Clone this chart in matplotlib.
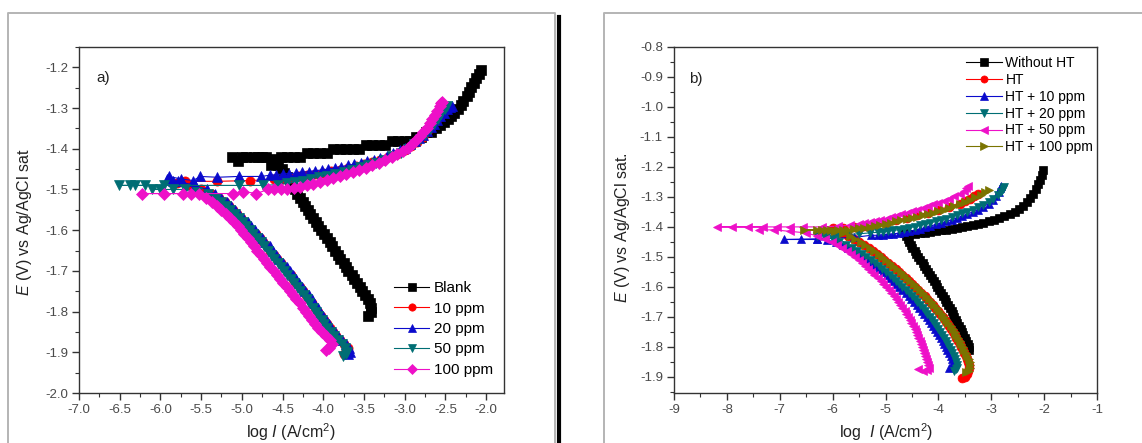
import matplotlib
matplotlib.use("Agg")
import matplotlib.pyplot as plt
from matplotlib.lines import Line2D
from matplotlib.ticker import MultipleLocator, FormatStrFormatter

plt.rcParams['font.family'] = ['Liberation Sans', 'DejaVu Sans']
plt.rcParams['mathtext.fontset'] = 'custom'
plt.rcParams['mathtext.rm'] = 'Liberation Sans'
plt.rcParams['mathtext.it'] = 'Liberation Sans:italic'
plt.rcParams['axes.unicode_minus'] = False

# ---------------- Panel a): inhibitor concentration ----------------
# each series: (log i, E) pairs in sweep order (cathodic -> anodic)
blank_a = [
    (-3.45, -1.81), (-3.41, -1.80), (-3.41, -1.79), (-3.43, -1.78), (-3.45, -1.77), (-3.49, -1.76),
    (-3.52, -1.75), (-3.55, -1.74), (-3.58, -1.73), (-3.62, -1.72), (-3.65, -1.71), (-3.69, -1.70),
    (-3.72, -1.69), (-3.75, -1.68), (-3.79, -1.67), (-3.82, -1.66), (-3.85, -1.65), (-3.89, -1.64),
    (-3.92, -1.63), (-3.96, -1.62), (-3.99, -1.61), (-4.03, -1.60), (-4.06, -1.59), (-4.09, -1.58),
    (-4.13, -1.57), (-4.16, -1.56), (-4.19, -1.55), (-4.22, -1.54), (-4.25, -1.53), (-4.29, -1.52),
    (-4.32, -1.51), (-4.35, -1.50), (-4.38, -1.49), (-4.41, -1.48), (-4.44, -1.47), (-4.48, -1.46),
    (-4.51, -1.45), (-4.55, -1.44), (-4.60, -1.43), (-4.64, -1.44), (-4.70, -1.42), (-4.80, -1.42),
    (-4.95, -1.42), (-5.05, -1.43), (-5.12, -1.42), (-5.00, -1.42), (-4.85, -1.42), (-4.75, -1.42),
    (-4.62, -1.425), (-4.52, -1.42), (-4.44, -1.42), (-4.36, -1.42), (-4.28, -1.42), (-4.20, -1.41),
    (-4.12, -1.41), (-4.04, -1.41), (-3.96, -1.41), (-3.88, -1.40), (-3.80, -1.40), (-3.72, -1.40),
    (-3.64, -1.40), (-3.56, -1.40), (-3.48, -1.39), (-3.40, -1.39), (-3.32, -1.39), (-3.24, -1.39),
    (-3.16, -1.38), (-3.08, -1.38), (-3.00, -1.38), (-2.93, -1.38), (-2.86, -1.37), (-2.80, -1.37),
    (-2.74, -1.36), (-2.68, -1.36), (-2.62, -1.35), (-2.57, -1.342), (-2.52, -1.335), (-2.47, -1.328),
    (-2.43, -1.320), (-2.39, -1.311), (-2.35, -1.302), (-2.31, -1.292), (-2.28, -1.282), (-2.24, -1.271),
    (-2.21, -1.260), (-2.18, -1.249), (-2.15, -1.238), (-2.12, -1.227), (-2.09, -1.216), (-2.06, -1.207),
]

ppm10_a = [
    (-3.74, -1.905), (-3.69, -1.90), (-3.70, -1.89), (-3.74, -1.88), (-3.79, -1.87), (-3.84, -1.86),
    (-3.88, -1.85), (-3.92, -1.84), (-3.96, -1.83), (-3.99, -1.82), (-4.03, -1.81), (-4.06, -1.80),
    (-4.10, -1.79), (-4.14, -1.78), (-4.17, -1.77), (-4.21, -1.76), (-4.25, -1.75), (-4.29, -1.74),
    (-4.33, -1.73), (-4.37, -1.72), (-4.40, -1.71), (-4.44, -1.70), (-4.48, -1.69), (-4.52, -1.68),
    (-4.57, -1.67), (-4.61, -1.66), (-4.65, -1.65), (-4.69, -1.64), (-4.74, -1.63), (-4.78, -1.62),
    (-4.83, -1.61), (-4.87, -1.60), (-4.92, -1.59), (-4.96, -1.58), (-5.01, -1.57), (-5.06, -1.56),
    (-5.11, -1.55), (-5.16, -1.54), (-5.21, -1.53), (-5.28, -1.52), (-5.37, -1.51), (-5.50, -1.50),
    (-5.65, -1.49), (-5.80, -1.485), (-5.70, -1.48), (-5.30, -1.48), (-4.90, -1.478), (-4.60, -1.475),
    (-4.50, -1.474), (-4.40, -1.471), (-4.30, -1.468), (-4.20, -1.465), (-4.10, -1.462), (-4.00, -1.459),
    (-3.90, -1.455), (-3.80, -1.451), (-3.70, -1.447), (-3.60, -1.443), (-3.50, -1.438), (-3.40, -1.433),
    (-3.30, -1.427), (-3.20, -1.421), (-3.10, -1.413), (-3.00, -1.404), (-2.92, -1.394), (-2.85, -1.383),
    (-2.78, -1.371), (-2.72, -1.358), (-2.66, -1.345), (-2.61, -1.332), (-2.56, -1.319), (-2.52, -1.307),
    (-2.48, -1.298),
]

ppm20_a = [
    (-3.70, -1.905), (-3.67, -1.90), (-3.68, -1.89), (-3.72, -1.88), (-3.77, -1.87), (-3.82, -1.86),
    (-3.86, -1.85), (-3.90, -1.84), (-3.93, -1.83), (-3.97, -1.82), (-4.00, -1.81), (-4.04, -1.80),
    (-4.07, -1.79), (-4.11, -1.78), (-4.14, -1.77), (-4.18, -1.76), (-4.22, -1.75), (-4.26, -1.74),
    (-4.30, -1.73), (-4.34, -1.72), (-4.37, -1.71), (-4.41, -1.70), (-4.45, -1.69), (-4.49, -1.68),
    (-4.54, -1.67), (-4.58, -1.66), (-4.62, -1.65), (-4.66, -1.64), (-4.71, -1.63), (-4.75, -1.62),
    (-4.80, -1.61), (-4.84, -1.60), (-4.89, -1.59), (-4.93, -1.58), (-4.98, -1.57), (-5.03, -1.56),
    (-5.08, -1.55), (-5.13, -1.54), (-5.18, -1.53), (-5.25, -1.52), (-5.33, -1.51), (-5.43, -1.50),
    (-5.58, -1.49), (-5.78, -1.48), (-5.85, -1.48), (-5.92, -1.475), (-5.90, -1.468), (-5.75, -1.474),
    (-5.60, -1.478), (-5.51, -1.468), (-5.30, -1.470), (-5.04, -1.468), (-4.76, -1.468), (-4.66, -1.465),
    (-4.58, -1.464), (-4.50, -1.462), (-4.42, -1.461), (-4.34, -1.460), (-4.26, -1.458), (-4.18, -1.456),
    (-4.10, -1.454), (-4.02, -1.452), (-3.94, -1.450), (-3.86, -1.447), (-3.78, -1.444), (-3.70, -1.441),
    (-3.62, -1.438), (-3.54, -1.435), (-3.46, -1.431), (-3.38, -1.427), (-3.30, -1.422), (-3.22, -1.417),
    (-3.14, -1.411), (-3.06, -1.404), (-2.99, -1.397), (-2.93, -1.389), (-2.87, -1.381), (-2.82, -1.373),
    (-2.77, -1.365), (-2.72, -1.356), (-2.68, -1.347), (-2.64, -1.338), (-2.60, -1.329), (-2.56, -1.320),
    (-2.52, -1.311), (-2.48, -1.303), (-2.44, -1.297), (-2.42, -1.294),
]

ppm50_a = [
    (-3.76, -1.91), (-3.72, -1.905), (-3.71, -1.90), (-3.73, -1.89), (-3.77, -1.88), (-3.82, -1.87),
    (-3.87, -1.86), (-3.91, -1.85), (-3.95, -1.84), (-3.99, -1.83), (-4.02, -1.82), (-4.06, -1.81),
    (-4.09, -1.80), (-4.13, -1.79), (-4.17, -1.78), (-4.20, -1.77), (-4.24, -1.76), (-4.28, -1.75),
    (-4.32, -1.74), (-4.36, -1.73), (-4.40, -1.72), (-4.44, -1.71), (-4.48, -1.70), (-4.52, -1.69),
    (-4.56, -1.68), (-4.60, -1.67), (-4.64, -1.66), (-4.68, -1.65), (-4.73, -1.64), (-4.77, -1.63),
    (-4.81, -1.62), (-4.86, -1.61), (-4.90, -1.60), (-4.95, -1.59), (-4.99, -1.58), (-5.04, -1.57),
    (-5.09, -1.56), (-5.14, -1.55), (-5.19, -1.54), (-5.25, -1.53), (-5.32, -1.52), (-5.42, -1.51),
    (-5.55, -1.505), (-5.70, -1.50), (-5.85, -1.50), (-6.00, -1.50), (-6.10, -1.50), (-5.96, -1.49),
    (-6.19, -1.49), (-6.31, -1.49), (-6.37, -1.49), (-6.51, -1.49), (-5.04, -1.49), (-4.74, -1.49),
    (-4.55, -1.488), (-4.45, -1.485), (-4.35, -1.482), (-4.25, -1.478), (-4.15, -1.474), (-4.05, -1.470),
    (-3.95, -1.466), (-3.85, -1.461), (-3.75, -1.456), (-3.65, -1.451), (-3.55, -1.446), (-3.45, -1.440),
    (-3.35, -1.434), (-3.25, -1.427), (-3.15, -1.419), (-3.05, -1.410), (-2.96, -1.400), (-2.88, -1.389),
    (-2.81, -1.377), (-2.75, -1.365), (-2.69, -1.352), (-2.64, -1.340), (-2.59, -1.327), (-2.55, -1.314),
    (-2.51, -1.302), (-2.48, -1.295),
]

ppm100_a = [
    (-3.97, -1.895), (-3.93, -1.89), (-3.89, -1.88), (-3.92, -1.87), (-3.97, -1.86), (-4.02, -1.85),
    (-4.06, -1.84), (-4.10, -1.83), (-4.14, -1.82), (-4.18, -1.81), (-4.21, -1.80), (-4.25, -1.79),
    (-4.29, -1.78), (-4.33, -1.77), (-4.37, -1.76), (-4.41, -1.75), (-4.45, -1.74), (-4.49, -1.73),
    (-4.53, -1.72), (-4.57, -1.71), (-4.61, -1.70), (-4.65, -1.69), (-4.69, -1.68), (-4.73, -1.67),
    (-4.77, -1.66), (-4.81, -1.65), (-4.85, -1.64), (-4.89, -1.63), (-4.93, -1.62), (-4.97, -1.61),
    (-5.01, -1.60), (-5.05, -1.59), (-5.10, -1.58), (-5.15, -1.57), (-5.20, -1.56), (-5.25, -1.55),
    (-5.31, -1.54), (-5.37, -1.53), (-5.44, -1.52), (-5.52, -1.51), (-5.62, -1.51), (-5.72, -1.51),
    (-5.96, -1.51), (-6.23, -1.51), (-5.11, -1.51), (-4.98, -1.505), (-4.82, -1.51), (-4.68, -1.50),
    (-4.60, -1.500), (-4.52, -1.500), (-4.44, -1.500), (-4.36, -1.497), (-4.28, -1.494), (-4.20, -1.490),
    (-4.12, -1.486), (-4.04, -1.482), (-3.96, -1.477), (-3.88, -1.472), (-3.80, -1.467), (-3.72, -1.462),
    (-3.64, -1.457), (-3.56, -1.452), (-3.48, -1.447), (-3.40, -1.441), (-3.32, -1.435), (-3.24, -1.428),
    (-3.16, -1.421), (-3.09, -1.413), (-3.02, -1.405), (-2.96, -1.397), (-2.91, -1.388), (-2.86, -1.378),
    (-2.81, -1.368), (-2.77, -1.358), (-2.73, -1.348), (-2.69, -1.337), (-2.66, -1.326), (-2.63, -1.316),
    (-2.60, -1.306), (-2.57, -1.296), (-2.55, -1.288), (-2.54, -1.284),
]

labels_a = ['Blank', '10 ppm', '20 ppm', '50 ppm', '100 ppm']

# ---------------- Panel b): heat treatment ----------------
without_ht_b = [
    (-3.42, -1.81), (-3.42, -1.80), (-3.44, -1.79), (-3.47, -1.78), (-3.50, -1.77), (-3.53, -1.76),
    (-3.55, -1.75), (-3.58, -1.74), (-3.61, -1.73), (-3.64, -1.72), (-3.67, -1.71), (-3.70, -1.70),
    (-3.72, -1.69), (-3.75, -1.68), (-3.78, -1.67), (-3.82, -1.66), (-3.85, -1.65), (-3.88, -1.64),
    (-3.91, -1.63), (-3.95, -1.62), (-3.98, -1.61), (-4.02, -1.60), (-4.05, -1.59), (-4.09, -1.58),
    (-4.12, -1.57), (-4.16, -1.56), (-4.20, -1.55), (-4.23, -1.54), (-4.27, -1.53), (-4.30, -1.52),
    (-4.34, -1.51), (-4.38, -1.50), (-4.42, -1.49), (-4.45, -1.48), (-4.49, -1.47), (-4.52, -1.46),
    (-4.55, -1.45), (-4.58, -1.44), (-4.62, -1.43), (-4.65, -1.42), (-4.55, -1.425), (-4.45, -1.423),
    (-4.35, -1.421), (-4.25, -1.419), (-4.15, -1.416), (-4.05, -1.414), (-3.95, -1.411), (-3.85, -1.409),
    (-3.75, -1.406), (-3.65, -1.403), (-3.55, -1.400), (-3.45, -1.397), (-3.35, -1.394), (-3.25, -1.390),
    (-3.15, -1.386), (-3.05, -1.382), (-2.95, -1.377), (-2.85, -1.370), (-2.75, -1.364), (-2.65, -1.357),
    (-2.55, -1.349), (-2.47, -1.340), (-2.40, -1.330), (-2.33, -1.318), (-2.27, -1.305), (-2.21, -1.290),
    (-2.16, -1.275), (-2.11, -1.258), (-2.07, -1.242), (-2.04, -1.226), (-2.02, -1.210),
]

ht_b = [
    (-3.55, -1.905), (-3.50, -1.90), (-3.46, -1.89), (-3.44, -1.88), (-3.43, -1.87), (-3.43, -1.86),
    (-3.44, -1.85), (-3.46, -1.84), (-3.48, -1.83), (-3.51, -1.82), (-3.54, -1.81), (-3.57, -1.80),
    (-3.60, -1.79), (-3.63, -1.78), (-3.66, -1.77), (-3.69, -1.76), (-3.72, -1.75), (-3.76, -1.74),
    (-3.80, -1.73), (-3.84, -1.72), (-3.88, -1.71), (-3.92, -1.70), (-3.96, -1.69), (-4.01, -1.68),
    (-4.06, -1.67), (-4.11, -1.66), (-4.16, -1.65), (-4.21, -1.64), (-4.26, -1.63), (-4.32, -1.62),
    (-4.38, -1.61), (-4.44, -1.60), (-4.50, -1.59), (-4.56, -1.58), (-4.62, -1.57), (-4.68, -1.56),
    (-4.74, -1.55), (-4.81, -1.54), (-4.88, -1.53), (-4.95, -1.52), (-5.02, -1.51), (-5.09, -1.50),
    (-5.16, -1.49), (-5.24, -1.48), (-5.32, -1.47), (-5.41, -1.46), (-5.50, -1.45), (-5.60, -1.44),
    (-5.71, -1.43), (-5.83, -1.42), (-5.98, -1.415), (-6.20, -1.41), (-6.00, -1.405), (-5.80, -1.405),
    (-5.60, -1.402), (-5.40, -1.398), (-5.20, -1.392), (-5.00, -1.386), (-4.80, -1.378), (-4.60, -1.370),
    (-4.40, -1.361), (-4.20, -1.352), (-4.00, -1.343), (-3.80, -1.333), (-3.60, -1.322), (-3.50, -1.315),
    (-3.40, -1.307), (-3.32, -1.298), (-3.25, -1.291),
]

ht10_b = [
    (-3.80, -1.87), (-3.75, -1.865), (-3.72, -1.86), (-3.72, -1.85), (-3.74, -1.84), (-3.77, -1.83),
    (-3.80, -1.82), (-3.83, -1.81), (-3.86, -1.80), (-3.89, -1.79), (-3.92, -1.78), (-3.95, -1.77),
    (-3.99, -1.76), (-4.02, -1.75), (-4.06, -1.74), (-4.10, -1.73), (-4.14, -1.72), (-4.18, -1.71),
    (-4.22, -1.70), (-4.27, -1.69), (-4.31, -1.68), (-4.36, -1.67), (-4.41, -1.66), (-4.46, -1.65),
    (-4.51, -1.64), (-4.56, -1.63), (-4.62, -1.62), (-4.68, -1.61), (-4.74, -1.60), (-4.80, -1.59),
    (-4.86, -1.58), (-4.92, -1.57), (-4.98, -1.56), (-5.05, -1.55), (-5.12, -1.54), (-5.19, -1.53),
    (-5.26, -1.52), (-5.34, -1.51), (-5.42, -1.50), (-5.51, -1.49), (-5.60, -1.48), (-5.70, -1.47),
    (-5.81, -1.46), (-5.94, -1.45), (-6.10, -1.445), (-6.30, -1.442), (-6.60, -1.442), (-6.92, -1.442),
    (-6.30, -1.440), (-5.60, -1.435), (-5.27, -1.428), (-5.15, -1.428), (-5.05, -1.426), (-4.95, -1.425),
    (-4.85, -1.423), (-4.75, -1.421), (-4.65, -1.418), (-4.55, -1.415), (-4.45, -1.411), (-4.35, -1.407),
    (-4.25, -1.402), (-4.15, -1.397), (-4.05, -1.392), (-3.95, -1.387), (-3.85, -1.382), (-3.75, -1.376),
    (-3.65, -1.370), (-3.55, -1.364), (-3.45, -1.357), (-3.35, -1.350), (-3.25, -1.342), (-3.15, -1.333),
    (-3.05, -1.322), (-2.97, -1.310), (-2.91, -1.297), (-2.86, -1.284), (-2.83, -1.270), (-2.82, -1.262),
]

ht20_b = [
    (-3.70, -1.88), (-3.66, -1.875), (-3.64, -1.87), (-3.64, -1.86), (-3.66, -1.85), (-3.68, -1.84),
    (-3.71, -1.83), (-3.74, -1.82), (-3.77, -1.81), (-3.80, -1.80), (-3.83, -1.79), (-3.86, -1.78),
    (-3.89, -1.77), (-3.93, -1.76), (-3.96, -1.75), (-4.00, -1.74), (-4.04, -1.73), (-4.08, -1.72),
    (-4.12, -1.71), (-4.16, -1.70), (-4.21, -1.69), (-4.25, -1.68), (-4.30, -1.67), (-4.35, -1.66),
    (-4.40, -1.65), (-4.45, -1.64), (-4.50, -1.63), (-4.56, -1.62), (-4.62, -1.61), (-4.68, -1.60),
    (-4.74, -1.59), (-4.80, -1.58), (-4.86, -1.57), (-4.92, -1.56), (-4.99, -1.55), (-5.06, -1.54),
    (-5.13, -1.53), (-5.20, -1.52), (-5.28, -1.51), (-5.36, -1.50), (-5.45, -1.49), (-5.54, -1.48),
    (-5.64, -1.47), (-5.75, -1.46), (-5.87, -1.45), (-6.00, -1.44), (-6.15, -1.435), (-6.30, -1.430),
    (-6.10, -1.428), (-5.90, -1.426), (-5.70, -1.425), (-5.50, -1.423), (-5.30, -1.420), (-5.15, -1.418),
    (-5.05, -1.416), (-4.95, -1.414), (-4.85, -1.412), (-4.75, -1.409), (-4.65, -1.406), (-4.55, -1.403),
    (-4.45, -1.399), (-4.35, -1.395), (-4.25, -1.391), (-4.15, -1.386), (-4.05, -1.382), (-3.95, -1.377),
    (-3.85, -1.372), (-3.75, -1.367), (-3.65, -1.361), (-3.55, -1.355), (-3.45, -1.349), (-3.35, -1.342),
    (-3.25, -1.335), (-3.15, -1.327), (-3.05, -1.318), (-2.96, -1.307), (-2.88, -1.295), (-2.82, -1.283),
    (-2.78, -1.273), (-2.76, -1.266),
]

ht50_b = [
    (-4.38, -1.875), (-4.30, -1.880), (-4.22, -1.878), (-4.18, -1.870), (-4.19, -1.86), (-4.21, -1.85),
    (-4.23, -1.84), (-4.25, -1.83), (-4.27, -1.82), (-4.29, -1.81), (-4.31, -1.80), (-4.33, -1.79),
    (-4.35, -1.78), (-4.38, -1.77), (-4.40, -1.76), (-4.43, -1.75), (-4.45, -1.74), (-4.48, -1.73),
    (-4.51, -1.72), (-4.54, -1.71), (-4.57, -1.70), (-4.61, -1.69), (-4.64, -1.68), (-4.68, -1.67),
    (-4.72, -1.66), (-4.76, -1.65), (-4.80, -1.64), (-4.84, -1.63), (-4.89, -1.62), (-4.94, -1.61),
    (-4.99, -1.60), (-5.04, -1.59), (-5.09, -1.58), (-5.15, -1.57), (-5.21, -1.56), (-5.27, -1.55),
    (-5.33, -1.54), (-5.39, -1.53), (-5.45, -1.52), (-5.51, -1.51), (-5.58, -1.50), (-5.65, -1.49),
    (-5.73, -1.48), (-5.82, -1.47), (-5.92, -1.46), (-6.02, -1.45), (-6.15, -1.44), (-6.30, -1.43),
    (-6.50, -1.42), (-6.80, -1.415), (-7.10, -1.41), (-7.40, -1.41), (-7.31, -1.40), (-7.60, -1.40),
    (-7.91, -1.40), (-8.19, -1.40), (-7.05, -1.40), (-6.80, -1.40), (-6.56, -1.40), (-6.20, -1.40),
    (-5.90, -1.397), (-5.67, -1.395), (-5.50, -1.390), (-5.40, -1.387), (-5.30, -1.384), (-5.20, -1.380),
    (-5.10, -1.376), (-5.00, -1.372), (-4.90, -1.367), (-4.80, -1.362), (-4.70, -1.357), (-4.60, -1.352),
    (-4.50, -1.347), (-4.40, -1.342), (-4.30, -1.336), (-4.20, -1.330), (-4.10, -1.325), (-4.00, -1.319),
    (-3.90, -1.313), (-3.80, -1.306), (-3.70, -1.298), (-3.60, -1.289), (-3.52, -1.280), (-3.47, -1.270),
    (-3.44, -1.262),
]

ht100_b = [
    (-3.47, -1.885), (-3.43, -1.88), (-3.40, -1.87), (-3.40, -1.86), (-3.41, -1.85), (-3.43, -1.84),
    (-3.45, -1.83), (-3.48, -1.82), (-3.51, -1.81), (-3.54, -1.80), (-3.57, -1.79), (-3.60, -1.78),
    (-3.63, -1.77), (-3.66, -1.76), (-3.69, -1.75), (-3.73, -1.74), (-3.77, -1.73), (-3.81, -1.72),
    (-3.85, -1.71), (-3.89, -1.70), (-3.93, -1.69), (-3.98, -1.68), (-4.03, -1.67), (-4.08, -1.66),
    (-4.13, -1.65), (-4.18, -1.64), (-4.23, -1.63), (-4.29, -1.62), (-4.35, -1.61), (-4.41, -1.60),
    (-4.47, -1.59), (-4.53, -1.58), (-4.59, -1.57), (-4.65, -1.56), (-4.71, -1.55), (-4.78, -1.54),
    (-4.85, -1.53), (-4.92, -1.52), (-4.99, -1.51), (-5.06, -1.50), (-5.13, -1.49), (-5.21, -1.48),
    (-5.29, -1.47), (-5.38, -1.46), (-5.47, -1.45), (-5.57, -1.44), (-5.68, -1.43), (-5.80, -1.42),
    (-5.95, -1.415), (-6.10, -1.41), (-6.30, -1.41), (-6.54, -1.41), (-6.20, -1.412), (-6.03, -1.411),
    (-5.90, -1.410), (-5.80, -1.410), (-5.70, -1.410), (-5.60, -1.408), (-5.50, -1.405), (-5.40, -1.403),
    (-5.30, -1.400), (-5.20, -1.397), (-5.10, -1.394), (-5.00, -1.390), (-4.90, -1.386), (-4.80, -1.382),
    (-4.70, -1.378), (-4.60, -1.374), (-4.50, -1.370), (-4.40, -1.366), (-4.30, -1.361), (-4.20, -1.356),
    (-4.10, -1.352), (-4.00, -1.347), (-3.90, -1.342), (-3.80, -1.336), (-3.70, -1.330), (-3.60, -1.323),
    (-3.50, -1.316), (-3.40, -1.309), (-3.30, -1.301), (-3.20, -1.293), (-3.12, -1.285), (-3.05, -1.278),
]

labels_b = ['Without HT', 'HT', 'HT + 10 ppm', 'HT + 20 ppm', 'HT + 50 ppm', 'HT + 100 ppm']

# ---------------- styling ----------------
BLACK, RED, BLUE, TEAL, MAGENTA, OLIVE = '#000000', '#FF0000', '#0A0ACC', '#006E74', '#EE10C8', '#7A7400'

W, H = 1142, 443
fig = plt.figure(figsize=(W / 100, H / 100), dpi=100)


def fx(px):
    return px / W


def fy(py):
    return 1 - py / H


# panel frames and the dividing bar
frame_kw = dict(color='#b4b4b4', lw=1.4, transform=fig.transFigure)
fig.add_artist(Line2D([fx(8), fx(8), fx(555), fx(555)], [0, fy(13), fy(13), 0], **frame_kw))
fig.add_artist(Line2D([fx(604), fx(604), 1.0], [0, fy(13), fy(13)], **frame_kw))
fig.add_artist(Line2D([fx(559), fx(559)], [fy(17), 0], color='black', lw=3.0, transform=fig.transFigure))

ax_a = fig.add_axes([fx(79), fy(393), fx(504) - fx(79), fy(47) - fy(393)])
ax_b = fig.add_axes([fx(674), fy(393), fx(1097) - fx(674), fy(47) - fy(393)])


def draw(ax, pts, color, marker, label, ms):
    xs = [p[0] for p in pts]
    ys = [p[1] for p in pts]
    ax.plot(xs, ys, color=color, lw=0.8, marker=marker, ms=ms, mfc=color, mec=color,
            mew=0.5, label=label)


def style(ax, xlim, ylim, xmaj, xmin, ymaj, ymin, xfmt):
    ax.set_xlim(*xlim)
    ax.set_ylim(*ylim)
    ax.xaxis.set_major_locator(MultipleLocator(xmaj))
    ax.xaxis.set_minor_locator(MultipleLocator(xmin))
    ax.yaxis.set_major_locator(MultipleLocator(ymaj))
    ax.yaxis.set_minor_locator(MultipleLocator(ymin))
    ax.xaxis.set_major_formatter(FormatStrFormatter(xfmt))
    ax.yaxis.set_major_formatter(FormatStrFormatter('%.1f'))
    ax.tick_params(which='both', direction='out', top=False, right=False,
                   color='#333333', labelcolor='#4a4a4a', labelsize=9.5)
    ax.tick_params(which='major', length=5, width=1.0, pad=3)
    ax.tick_params(which='minor', length=3, width=0.8)
    for s in ax.spines.values():
        s.set_color('#333333')
        s.set_linewidth(1.0)


# panel a
for pts, c, m, lab in zip([blank_a, ppm10_a, ppm20_a, ppm50_a, ppm100_a],
                          [BLACK, RED, BLUE, TEAL, MAGENTA],
                          ['s', 'o', '^', 'v', 'D'], labels_a):
    draw(ax_a, pts, c, m, lab, ms=6.6 if m != 'D' else 5.8)
style(ax_a, (-7.0, -1.78), (-2.0, -1.15), 0.5, 0.25, 0.1, 0.05, '%.1f')
ax_a.text(0.04, 0.9, 'a)', transform=ax_a.transAxes, fontsize=11, color='#222222')
ax_a.legend(loc='upper left', bbox_to_anchor=(0.742, 0.323), frameon=False, fontsize=11,
            handlelength=2.3, handletextpad=0.3, labelspacing=0.42, borderpad=0, borderaxespad=0,
            markerscale=0.8)

# panel b
for pts, c, m, lab in zip([without_ht_b, ht_b, ht10_b, ht20_b, ht50_b, ht100_b],
                          [BLACK, RED, BLUE, TEAL, MAGENTA, OLIVE],
                          ['s', 'o', '^', 'v', '<', '>'], labels_b):
    draw(ax_b, pts, c, m, lab, ms=6.4)
style(ax_b, (-9, -1), (-1.954, -0.8), 1, 0.5, 0.1, 0.05, '%d')
ax_b.text(0.035, 0.895, 'b)', transform=ax_b.transAxes, fontsize=11, color='#222222')
ax_b.legend(loc='upper left', bbox_to_anchor=(0.69, 0.973), frameon=False, fontsize=10,
            handlelength=2.6, handletextpad=0.25, labelspacing=0.2, borderpad=0, borderaxespad=0,
            markerscale=0.8)

# axis titles
lab_kw = dict(fontsize=11.5, color='#222222', ha='center', va='center')
fig.text(fx(25), fy(222), r'$\mathit{E}$ (V) vs Ag/AgCl sat', rotation=90, **lab_kw)
fig.text(fx(622), fy(228), r'$\mathit{E}$ (V) vs Ag/AgCl sat.', rotation=90, **lab_kw)
fig.text(fx(291), fy(432), r'log $\mathit{I}$ (A/cm$^2$)', **lab_kw)
fig.text(fx(886), fy(432), r'log  $\mathit{I}$ (A/cm$^2$)', **lab_kw)

fig.savefig('out.png', dpi=100)
